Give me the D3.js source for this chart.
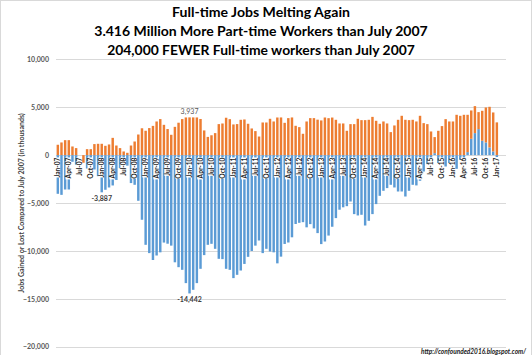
<!DOCTYPE html>
<html><head><meta charset="utf-8">
<script src="https://cdn.jsdelivr.net/npm/d3@7"></script>
<style>body{margin:0;background:#fff}svg{display:block}</style>
</head><body><svg id="c" width="532" height="355"></svg>
<script>
// Categories: monthly, Jan-07 .. Jan-17
const categories = d3.utcMonth.range(new Date(Date.UTC(2007,0,1)), new Date(Date.UTC(2017,1,1))).map(d3.utcFormat("%b-%y"));

// Full-time jobs gained/lost vs July 2007 (thousands)
const fullTime = [
-4040,-4150,-3590,-3590,-700,-1000,0,0,-1400,-1700,-1500,-2200,
-3887,-3620,-3380,-3170,-2600,-1360,-1500,-1100,-2920,-3100,-4770,-6750,
-9365,-10231,-10950,-10480,-10150,-9130,-9250,-9450,-11190,-11700,-11975,-13363,
-14442,-14063,-13363,-11870,-10440,-9365,-9260,-9782,-10826,-10860,-11870,-11975,
-12841,-12497,-12048,-11360,-10620,-10010,-9450,-8916,-10231,-9782,-10064,-10150,
-11300,-10600,-9275,-9124,-8580,-7190,-7070,-7000,-7540,-7204,-7650,-8143,
-9290,-9020,-8400,-7480,-6577,-5700,-5450,-5330,-4844,-6160,-6300,-6230,
-7350,-6860,-6160,-5115,-4250,-3727,-3445,-3100,-3380,-3800,-3800,-4322,
-3727,-3100,-3165,-2680,-1712,-940,-300,200,-835,-700,-1190,-835,
-900,-1430,-490,-400,313,1702,2294,2714,1497,1323,800,382,
-204];

// Part-time jobs gained/lost vs July 2007 (thousands)
const partTime = [
1080,1320,1560,1560,900,730,0,-800,620,620,1150,1180,
1180,970,1110,1800,1000,730,380,240,1000,1420,2150,2800,
2540,2820,3050,3510,3760,3160,2720,2120,2950,3380,3760,3930,
3937,3935,3930,3770,2575,1900,2070,2296,3235,3300,3900,3750,
3200,3236,3685,3720,3270,2780,2505,1940,3405,3405,3790,3510,
3925,3930,3370,3860,3930,3060,2920,2225,3510,3860,3860,3700,
3620,3925,3855,3920,3685,3302,3302,2537,3233,3233,3790,3650,
3650,3685,3990,3581,3268,3511,3302,2400,3094,3685,4103,3685,
3650,3685,3511,4103,3337,3233,2467,1680,2537,3028,3755,3511,
3511,4207,4103,4207,3894,2958,2818,1772,3128,3650,4242,4069,
3416];

const yTicks = [-20000,-15000,-10000,-5000,0,5000,10000];
const titleLines = ["Full-time Jobs Melting Again","3.416 Million More Part-time Workers than July 2007","204,000 FEWER Full-time workers than July 2007"];
const yTitle = "Jobs Gained or Lost Compared to July 2007 (in thousands)";
const callouts = [{cat:"Jan-10", series:"pt", text:"3,937"},{cat:"Jan-08", series:"ft", text:"-3,887"},{cat:"Jan-10", series:"ft", text:"-14,442"}];
const sourceText = "http://confounded2016.blogspot.com/";

const FONT = "Lato, 'Open Sans', sans-serif";
const BLUE = "#5b9bd5", ORANGE = "#ed7d31";
const svg = d3.select("#c");

svg.append("rect").attr("x",0.5).attr("y",0.5).attr("width",531).attr("height",360)
  .attr("fill","#fff").attr("stroke","#d9d9d9");

const rows = categories.map((c,i)=>({cat:c, ft:fullTime[i], pt:partTime[i]}));
const domain = categories.concat(["_pad1","_pad2"]);
const x = d3.scaleBand().domain(domain).range([56,506]).paddingInner(0.33).paddingOuter(0.165);
const y = d3.scaleLinear().domain([-20000,10000]).range([346.7,59.3]);

// gridlines
svg.append("g").selectAll("line").data(yTicks).join("line")
  .attr("x1",56).attr("x2",506).attr("y1",d=>Math.round(y(d))+0.5).attr("y2",d=>Math.round(y(d))+0.5)
  .attr("stroke","#d9d9d9").attr("stroke-width",1);

// y axis
const ya = svg.append("g").attr("transform","translate(52,0)")
  .call(d3.axisLeft(y).tickValues(yTicks).tickSize(0).tickPadding(3).tickFormat(d3.format(",")));
ya.select(".domain").remove();
ya.selectAll("text").attr("font-family",FONT).attr("font-size",7).attr("font-weight",700).attr("fill","#595959");

// stacked bars
const stack = d3.stack().keys(["ft","pt"]).offset(d3.stackOffsetDiverging)(rows);
const colors = {ft:BLUE, pt:ORANGE};
svg.append("g").selectAll("g").data(stack).join("g").attr("fill",s=>colors[s.key])
  .selectAll("rect").data(s=>s).join("rect")
  .attr("x",d=>x(d.data.cat)).attr("width",x.bandwidth())
  .attr("y",d=>y(Math.max(d[0],d[1]))).attr("height",d=>Math.abs(y(d[0])-y(d[1])));

// x axis labels every 3 months
const xa = svg.append("g").attr("transform",`translate(0,${y(0)})`)
  .call(d3.axisBottom(x).tickValues(categories.filter((c,i)=>i%3===0)).tickSize(0));
xa.select(".domain").remove();
xa.selectAll("text").attr("font-family",FONT).attr("font-size",6.6).attr("font-weight",700).attr("fill","#262626")
  .attr("transform","rotate(-90)").attr("text-anchor","end").attr("x",-2.5).attr("y",0).attr("dy","0.35em");
xa.selectAll(".tick").each(function(){
  const t = d3.select(this).select("text");
  const bb = t.node().getBBox();
  d3.select(this).insert("rect","text").attr("transform","rotate(-90)")
    .attr("x",bb.x).attr("width",bb.width).attr("y",bb.y+bb.height*0.18).attr("height",bb.height*0.64).attr("fill","#fff");
});

// callouts
callouts.forEach(c=>{
  const i = categories.indexOf(c.cat);
  const v = c.series==="pt" ? partTime[i] : fullTime[i];
  const cx = x(c.cat)+x.bandwidth()/2;
  const yy = v>=0 ? y(v)-3 : y(v)+8.5;
  svg.append("text").attr("x",cx).attr("y",yy).attr("text-anchor","middle")
    .attr("font-family",FONT).attr("font-size",7).attr("font-weight",c.series==="pt"?400:700)
    .attr("fill",c.series==="pt"?"#595959":"#404040").text(c.text);
});

// y title
svg.append("text").attr("transform","translate(23.5,203) rotate(-90)").attr("text-anchor","middle")
  .attr("font-family",FONT).attr("font-size",7).attr("font-weight",700).attr("fill","#404040").text(yTitle);

// title
const tw = [178,334,308], tb = [17,36,54.5];
titleLines.forEach((t,i)=>{
  const el = svg.append("text").attr("x",261).attr("y",tb[i]).attr("text-anchor","middle")
    .attr("font-family",FONT).attr("font-size",14).attr("font-weight",700).attr("fill","#000").text(t);
  const w = el.node().getComputedTextLength();
  el.attr("font-size",14*tw[i]/w);
});

// source
svg.append("text").attr("x",526).attr("y",353.5).attr("text-anchor","end")
  .attr("font-family",FONT).attr("font-size",6.5).attr("font-weight",700).attr("font-style","italic").attr("fill","#222").text(sourceText);
</script></body></html>
